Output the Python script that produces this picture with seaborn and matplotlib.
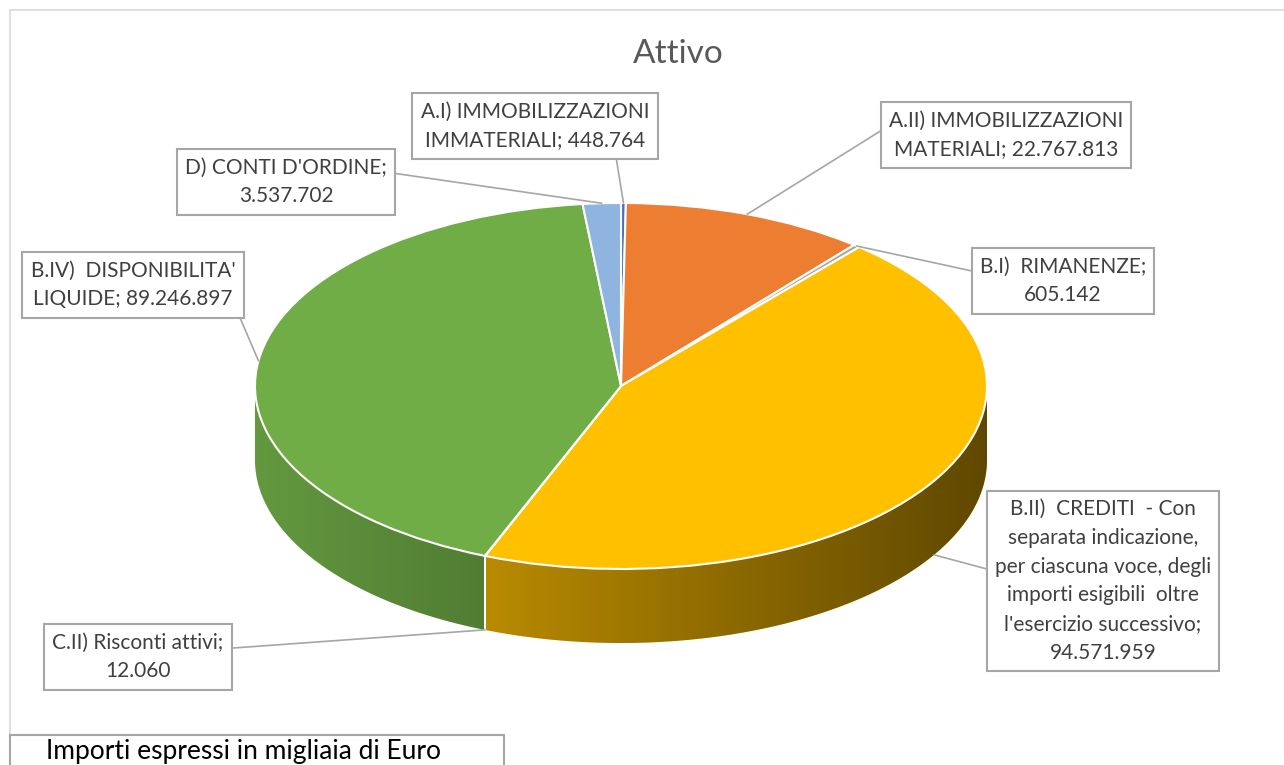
import numpy as np
import matplotlib
matplotlib.use("Agg")
import matplotlib.pyplot as plt
import seaborn as sns
from matplotlib.patches import Polygon, Rectangle

# Dati (importi in migliaia di Euro)
labels = [
    "A.I) IMMOBILIZZAZIONI\nIMMATERIALI; 448.764",
    "A.II) IMMOBILIZZAZIONI\nMATERIALI; 22.767.813",
    "B.I)  RIMANENZE;\n605.142",
    "B.II)  CREDITI  - Con\nseparata indicazione,\nper ciascuna voce, degli\nimporti esigibili  oltre\nl'esercizio successivo;\n94.571.959",
    "C.II) Risconti attivi;\n12.060",
    "B.IV)  DISPONIBILITA'\nLIQUIDE; 89.246.897",
    "D) CONTI D'ORDINE;\n3.537.702",
]
values = [448764, 22767813, 605142, 94571959, 12060, 89246897, 3537702]
colors = ["#4472C4", "#ED7D31", "#A5A5A5", "#FFC000", "#5B9BD5", "#70AD47", "#8FB4E0"]

# posizione dei box delle etichette (pixel, origine in alto a sinistra) e punto di attacco
label_pos = [(535, 126), (1006, 135), (1063, 281), (1103, 581), (138, 657), (133, 285), (286, 182)]
label_rel = [(0.85, 0.0), (0.0, 0.69), (0.0, 0.67), (0.0, 0.56), (1.0, 0.67), (1.0, 0.05), (1.0, 0.7)]

sns.set_style("white")
plt.rcParams["font.family"] = ["Lato", "DejaVu Sans"]

W, H = 1284, 765
fig = plt.figure(figsize=(W / 100, H / 100), dpi=100)
ax = fig.add_axes([0, 0, 1, 1])

# geometria della torta (pixel)
cx, cy, rx, ry = 621, 386, 366, 183
h = 74 / ry  # spessore in unità y

wedges, _ = ax.pie(values, colors=colors, startangle=90, counterclock=False,
                   wedgeprops=dict(edgecolor="white", linewidth=1.5), radius=1)
for w in wedges:
    w.set_zorder(3)

# lato del cilindro con sfumatura
grad = np.zeros((2, 256, 4))
grad[..., 3] = np.linspace(0.12, 0.63, 256)
for w, c in zip(wedges, colors):
    t1, t2 = w.theta1, w.theta2
    for k in range(-2, 2):
        lo = max(t1, 180 + 360 * k)
        hi = min(t2, 360 + 360 * k)
        if hi <= lo:
            continue
        ts = np.radians(np.linspace(lo, hi, 200))
        top = np.column_stack([np.cos(ts), np.sin(ts)])
        bot = np.column_stack([np.cos(ts[::-1]), np.sin(ts[::-1]) - h])
        poly = Polygon(np.vstack([top, bot]), closed=True, facecolor=c,
                       edgecolor="none", zorder=1)
        ax.add_patch(poly)
        im = ax.imshow(grad, extent=[-1, 1, -1 - h, 0], aspect="auto", zorder=2,
                       interpolation="bilinear")
        im.set_clip_path(poly)
        for t in (lo, hi):
            if t % 180 != 0:
                tr = np.radians(t)
                ax.plot([np.cos(tr)] * 2, [np.sin(tr), np.sin(tr) - h],
                        color="white", lw=1.3, zorder=2.5)

ax.set_aspect("auto")
ax.set_xlim((0 - cx) / rx, (W - cx) / rx)
ax.set_ylim((cy - H) / ry, cy / ry)
ax.axis("off")

# etichette con linee guida
for w, lab, (px, py), rel in zip(wedges, labels, label_pos, label_rel):
    tm = np.radians((w.theta1 + w.theta2) / 2)
    x, y = np.cos(tm), np.sin(tm)
    if y < 0:
        y -= h
    ax.annotate(lab, xy=(x, y), xycoords="data",
                xytext=(px, H - py), textcoords="figure pixels",
                ha="center", va="center", fontsize=15, color="#404040",
                linespacing=1.55,
                bbox=dict(boxstyle="square,pad=0.4", fc="white", ec="#A6A6A6", lw=1.5),
                arrowprops=dict(arrowstyle="-", color="#A6A6A6", lw=1.2,
                                shrinkA=0, shrinkB=0, relpos=rel),
                zorder=5)

# titolo
fig.text(678 / W, 1 - 54 / H, "Attivo", ha="center", va="center",
         fontsize=24, color="#595959")

# bordo del grafico
fig.patches.append(Rectangle((10 / W, -0.1), 1.2, (H - 10) / H + 0.1,
                             transform=fig.transFigure, fill=False,
                             ec="#D9D9D9", lw=1.2, zorder=0))

# box note in basso
fig.patches.append(Rectangle((10 / W, -0.1), (504 - 10) / W, 0.1 + (H - 735) / H,
                             transform=fig.transFigure, fc="white",
                             ec="#A6A6A6", lw=1.5, zorder=6))
fig.text(244 / W, 1 - 752 / H, "Importi espressi in migliaia di Euro",
         ha="center", va="center", fontsize=19, color="black", zorder=7)

fig.savefig("out.png", dpi=100)
